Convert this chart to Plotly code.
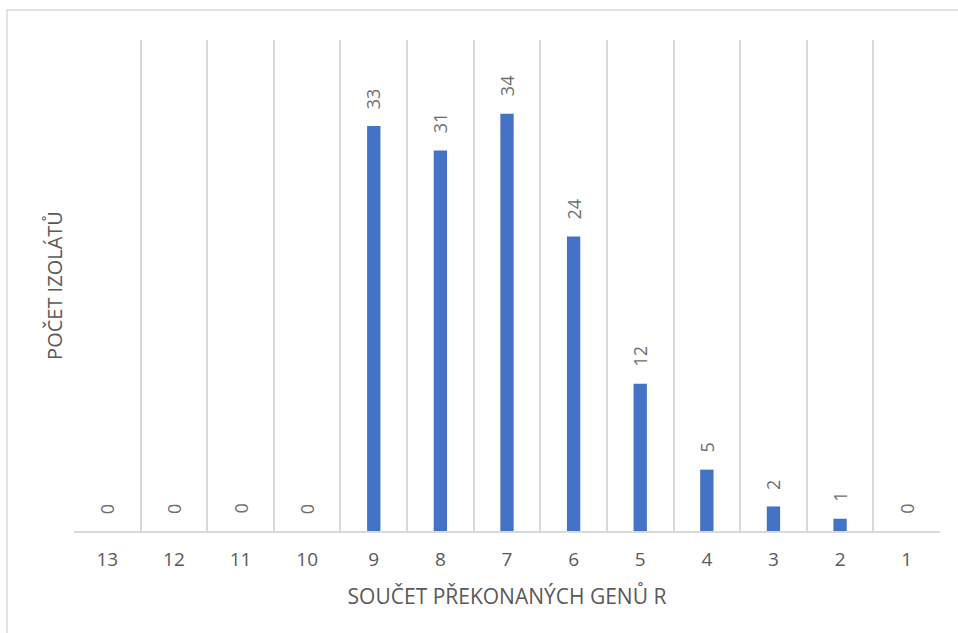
import plotly.graph_objects as go

# Počet izolátů podle součtu překonaných genů R
categories = ["13", "12", "11", "10", "9", "8", "7", "6", "5", "4", "3", "2", "1"]
counts = [0, 0, 0, 0, 33, 31, 34, 24, 12, 5, 2, 1, 0]

x_title = "SOUČET PŘEKONANÝCH GENŮ R"
y_title = "POČET IZOLÁTŮ"

W, H = 958, 633
L, R, T, B = 74, 18, 40, 102
pw, ph = W - L - R, H - T - B

text_color = "#595959"
label_color = "#6e6e6e"
grid_color = "#d9d9d9"
font_family = "Open Sans, Segoe UI, sans-serif"

pos = list(range(len(categories)))
bounds = [p - 0.5 for p in pos] + [pos[-1] + 0.5]

fig = go.Figure(
    go.Bar(
        x=pos,
        y=counts,
        width=0.2,
        marker=dict(color="#4472C4", line=dict(width=0)),
        customdata=categories,
        hovertemplate="%{customdata}: %{y}<extra></extra>",
    )
)

# value labels above bars, rotated
for p, v in zip(pos, counts):
    fig.add_annotation(
        x=p, y=v, xref="x", yref="y",
        text=str(v), showarrow=False,
        textangle=-90, yanchor="bottom", xanchor="center",
        yshift=15,
        font=dict(family=font_family, size=18, color=label_color),
    )

# outer chart frame (left and top edges)
def px_x(px):
    return (px - L) / pw

def px_y(py):
    return (H - B - py) / ph

fig.add_shape(
    type="path",
    xref="paper", yref="paper",
    path=f"M {px_x(7)},{px_y(H + 2)} L {px_x(7)},{px_y(10)} L {px_x(W + 2)},{px_y(10)}",
    line=dict(color=grid_color, width=1.5),
    layer="below",
)

fig.update_layout(
    width=W, height=H,
    margin=dict(l=L, r=R, t=T, b=B),
    paper_bgcolor="white",
    plot_bgcolor="white",
    showlegend=False,
    font=dict(family=font_family, color=text_color),
    xaxis=dict(
        range=[bounds[0], bounds[-1]],
        tickmode="array",
        tickvals=pos,
        ticktext=categories,
        showgrid=False,
        minor=dict(tickmode="array", tickvals=bounds, showgrid=True,
                   gridcolor=grid_color, gridwidth=1.5, ticks=""),
        showline=True,
        linecolor=grid_color,
        linewidth=1.5,
        ticks="",
        ticklabelstandoff=10,
        tickfont=dict(size=19, color=text_color),
        title=dict(text=x_title, font=dict(size=21, color=text_color), standoff=19),
        automargin=False,
        zeroline=False,
        fixedrange=True,
    ),
    yaxis=dict(
        range=[0, 40],
        showgrid=False,
        showticklabels=False,
        showline=False,
        zeroline=False,
        ticks="",
        title=dict(text=y_title, font=dict(size=20, color=text_color), standoff=5),
        automargin=False,
        fixedrange=True,
    ),
)

fig.write_html("out.html")
